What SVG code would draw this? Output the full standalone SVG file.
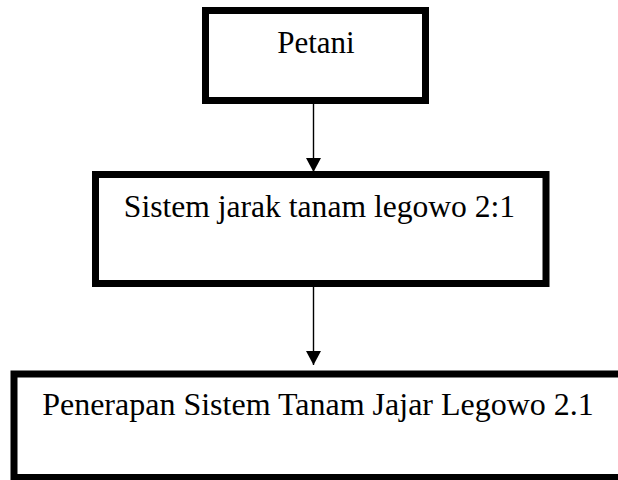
<svg xmlns="http://www.w3.org/2000/svg" width="618" height="480" viewBox="0 0 618 480">
  <style>
    .box { fill: #ffffff; stroke: #000000; stroke-width: 7; }
    .lbl { font-family: 'Liberation Serif', 'Times New Roman', Times, serif; font-size: 31px; fill: #000000; text-anchor: middle; }
    .conn { stroke: #000000; stroke-width: 1.4; fill: none; marker-end: url(#arrow); }
  </style>
  <defs>
    <marker id="arrow" markerUnits="userSpaceOnUse" markerWidth="15" markerHeight="15" refX="14" refY="7.5" orient="auto" viewBox="0 0 15 15">
      <path d="M0,0 L14,7.5 L0,15 Z" fill="#000000"/>
    </marker>
  </defs>
  <rect width="618" height="480" fill="#ffffff"/>
  <g id="connectors">
    <line class="conn" x1="313.5" y1="104" x2="313.5" y2="172"/>
    <line class="conn" x1="313.5" y1="287" x2="313.5" y2="365"/>
  </g>
  <g id="node-petani">
    <rect class="box" x="205.5" y="10.5" width="220" height="90"/>
    <text class="lbl" x="316" y="52.5">Petani</text>
  </g>
  <g id="node-sistem">
    <rect class="box" x="95.5" y="174.5" width="450.5" height="109"/>
    <text class="lbl" x="319.5" y="216.5" style="font-size:31.6px">Sistem jarak tanam legowo 2:1</text>
  </g>
  <g id="node-penerapan">
    <rect class="box" x="14" y="374" width="610" height="103.5"/>
    <text class="lbl" x="318" y="415" style="font-size:32px">Penerapan Sistem Tanam Jajar Legowo 2.1</text>
  </g>
</svg>
